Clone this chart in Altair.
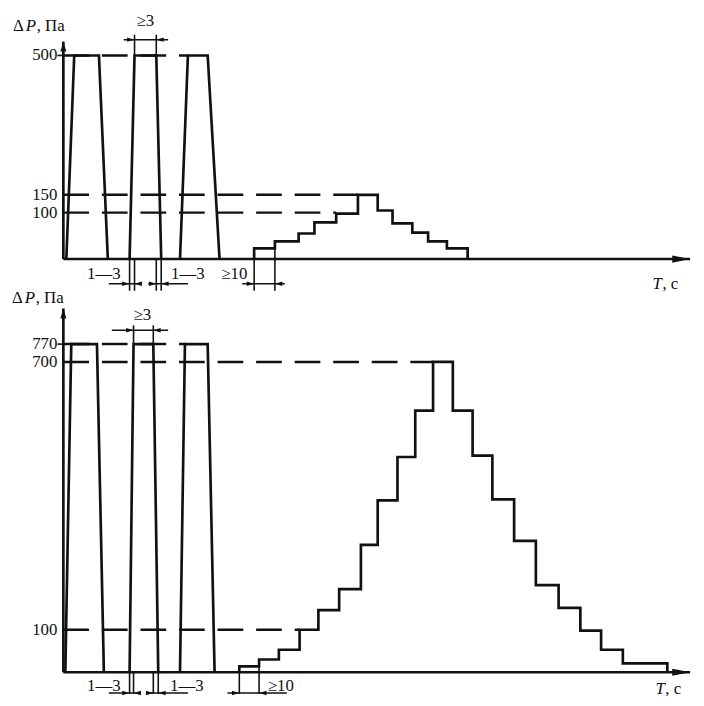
import altair as alt
import pandas as pd

FONT = "Liberation Serif"
FS = 17
INK = "#111111"

# ---------------- panel a (top) : pressure 0..500 Pa ----------------
A_TICKS = [500, 150, 100]
A_TICKMARK = [500]
A_LEVEL = 500
A_PULSES = [(3, 11, 36, 45), (67, 72, 94, 99), (118, 126, 146, 158)]
A_STEP_T = [193, 214, 238, 254, 276, 298, 318, 333, 353, 369, 388]
A_STEP_P = [23, 38, 55, 79, 98, 150, 106, 77, 57, 38, 23]
A_STEP_END = 409
A_DASH_P = [500, 150, 100]
A_DASH_END = [126, 298, 276]
A_AXIS_TIP = 514
A_DIM_TOP = dict(ext_T=[72, 94], ext_from=500, ext_to=521, line=(61, 106), P=516,
                 arrows=[(72, "R"), (94, "L")], text=("≥3", 83, 535))
A_DIM_LOW = dict(ext=[(67, 0), (72, 0), (94, 0), (99, 0), (193, 0), (214, 23)], ext_to=-32,
                 lines=[(46, 78), (86, 126), (181, 224)], P=-25,
                 arrows=[(67, "R"), (72, "L"), (94, "R"), (99, "L"), (193, "R"), (214, "L")],
                 texts=[("1—3", 41, -15), ("1—3", 126, -15), ("≥10", 173, -15)])
A_TLABEL = (596, -25)
A_PLABEL = (-51, 530)

# ---------------- panel b (bottom) : pressure 0..770 Pa ----------------
B_TICKS = [770, 700, 100]
B_TICKMARK = [770]
B_LEVEL = 770
B_PULSES = [(2, 8, 34, 41), (67, 71, 91, 96), (118, 123, 146, 153)]
B_STEP_T = [178, 198, 218, 239, 258, 279, 301, 318, 338, 356, 374,
            394, 414, 434, 456, 478, 501, 523, 544, 566]
B_STEP_P = [14, 30, 53, 100, 144, 191, 290, 390, 487, 591, 700,
            591, 490, 392, 299, 200, 149, 98, 53, 21]
B_STEP_END = 611
B_DASH_P = [770, 700, 100]
B_DASH_END = [123, 374, 239]
B_AXIS_TIP = 806
B_DIM_TOP = dict(ext_T=[71, 91], ext_from=770, ext_to=789, line=(49, 106), P=784,
                 arrows=[(71, "R"), (91, "L")], text=("≥3", 80, 799))
B_DIM_LOW = dict(ext=[(67, 0), (71, 0), (91, 0), (96, 0), (178, 0), (198, 14)], ext_to=-22,
                 lines=[(46, 78), (86, 126), (166, 226)], P=-21,
                 arrows=[(67, "R"), (71, "L"), (91, "R"), (96, "L"), (178, "R"), (198, "L")],
                 texts=[("1—3", 41, -14), ("1—3", 125, -14), ("≥10", 220, -14)])
B_TLABEL = (599, -17)
B_PLABEL = (-52, 817)

X_TIP = 634

XS = alt.Scale(domain=[-56, 640], nice=False, zero=False)
A_SCALE = alt.Scale(domain=[-50, 0, 100, 150, 500, 544], range=[300, 250, 203, 185, 44, 0],
                    nice=False, zero=False)
B_SCALE = alt.Scale(domain=[-22, 0, 100, 700, 770, 1106], range=[690, 668, 625, 354, 336, 0],
                    nice=False, zero=False)

ARROW_R = "M0,0L-2,-0.6L-2,0.6Z"
ARROW_L = "M0,0L2,-0.6L2,0.6Z"
AXIS_R = "M0,0L-2,-0.4L-2,0.4Z"
AXIS_UP = "M0,0L-0.6,2L0.6,2Z"


def X(f="T"):
    return alt.X(f"{f}:Q", scale=XS, axis=None)


def Y(ys, f="P"):
    return alt.Y(f"{f}:Q", scale=ys, axis=None)


def txt_layer(df, ys, align="left", italic=False):
    kw = dict(font=FONT, fontSize=FS, align=align, baseline="middle", color=INK)
    if italic:
        kw["fontStyle"] = "italic"
    return alt.Chart(df).mark_text(**kw).encode(x=X(), y=Y(ys), text="txt:N")


def panel(ys, ticks, tickmark, level, pulses, step_T, step_P, step_end, dash_P, dash_end,
          axis_tip, dtop, dlow, tlabel, plabel):
    layers = []
    # axes
    ax_y = pd.DataFrame({"T": [0], "P": [0], "P2": [axis_tip]})
    ax_x = pd.DataFrame({"T": [0], "T2": [X_TIP], "P": [0]})
    layers.append(alt.Chart(ax_y).mark_rule(color=INK, strokeWidth=2.7)
                  .encode(x=X(), y=Y(ys), y2="P2:Q"))
    layers.append(alt.Chart(ax_x).mark_rule(color=INK, strokeWidth=2.5)
                  .encode(x=X(), x2="T2:Q", y=Y(ys)))
    layers.append(alt.Chart(pd.DataFrame({"T": [0], "P": [axis_tip]}))
                  .mark_point(shape=AXIS_UP, size=100, filled=True, opacity=1, color=INK)
                  .encode(x=X(), y=Y(ys)))
    layers.append(alt.Chart(pd.DataFrame({"T": [X_TIP], "P": [0]}))
                  .mark_point(shape=AXIS_R, size=324, filled=True, opacity=1, color=INK)
                  .encode(x=X(), y=Y(ys)))
    # small ticks
    tk = pd.DataFrame({"T": [-6] * len(tickmark), "T2": [0] * len(tickmark), "P": tickmark})
    layers.append(alt.Chart(tk).mark_rule(color=INK, strokeWidth=1.6)
                  .encode(x=X(), x2="T2:Q", y=Y(ys)))
    # tick labels
    tl = pd.DataFrame({"T": [-6] * len(ticks), "P": ticks, "txt": [str(t) for t in ticks]})
    layers.append(txt_layer(tl, ys, align="right"))
    # dashed reference levels
    dd = pd.DataFrame({"T": [0] * len(dash_P), "T2": dash_end, "P": dash_P})
    layers.append(alt.Chart(dd).mark_rule(color=INK, strokeWidth=2.5, strokeDash=[26, 13])
                  .encode(x=X(), x2="T2:Q", y=Y(ys)))
    # pulses
    rows = []
    for i, (a, b, c, d) in enumerate(pulses):
        for j, (t, p) in enumerate([(a, 0), (b, level), (c, level), (d, 0)]):
            rows.append({"pid": i, "seq": j, "T": t, "P": p})
    layers.append(alt.Chart(pd.DataFrame(rows)).mark_line(color=INK, strokeWidth=2.7)
                  .encode(x=X(), y=Y(ys), detail="pid:N", order="seq:Q"))
    # staircase
    st = [{"seq": 0, "T": step_T[0], "P": 0}]
    for k, (t, p) in enumerate(zip(step_T, step_P)):
        st.append({"seq": k + 1, "T": t, "P": p})
    st.append({"seq": len(st), "T": step_end, "P": 0})
    layers.append(alt.Chart(pd.DataFrame(st))
                  .mark_line(color=INK, strokeWidth=2.7, interpolate="step-after")
                  .encode(x=X(), y=Y(ys), order="seq:Q"))
    # upper dimension (>=3)
    e1 = pd.DataFrame({"T": dtop["ext_T"], "P": [dtop["ext_from"]] * 2, "P2": [dtop["ext_to"]] * 2})
    layers.append(alt.Chart(e1).mark_rule(color=INK, strokeWidth=1.6)
                  .encode(x=X(), y=Y(ys), y2="P2:Q"))
    l1 = pd.DataFrame({"T": [dtop["line"][0]], "T2": [dtop["line"][1]], "P": [dtop["P"]]})
    layers.append(alt.Chart(l1).mark_rule(color=INK, strokeWidth=1.5)
                  .encode(x=X(), x2="T2:Q", y=Y(ys)))
    # lower dimensions
    e2 = pd.DataFrame({"T": [e[0] for e in dlow["ext"]], "P": [e[1] for e in dlow["ext"]],
                       "P2": [dlow["ext_to"]] * len(dlow["ext"])})
    layers.append(alt.Chart(e2).mark_rule(color=INK, strokeWidth=1.6)
                  .encode(x=X(), y=Y(ys), y2="P2:Q"))
    l2 = pd.DataFrame({"T": [l[0] for l in dlow["lines"]], "T2": [l[1] for l in dlow["lines"]],
                       "P": [dlow["P"]] * len(dlow["lines"])})
    layers.append(alt.Chart(l2).mark_rule(color=INK, strokeWidth=1.5)
                  .encode(x=X(), x2="T2:Q", y=Y(ys)))
    # arrowheads of the dimensions
    arr = [(t, dtop["P"], d) for t, d in dtop["arrows"]] + [(t, dlow["P"], d) for t, d in dlow["arrows"]]
    for dname, shp in (("R", ARROW_R), ("L", ARROW_L)):
        da = pd.DataFrame({"T": [a[0] for a in arr if a[2] == dname],
                           "P": [a[1] for a in arr if a[2] == dname]})
        layers.append(alt.Chart(da).mark_point(shape=shp, size=56, filled=True, opacity=1, color=INK)
                      .encode(x=X(), y=Y(ys)))
    # dimension texts
    txt = [dtop["text"]] + dlow["texts"]
    dt = pd.DataFrame({"txt": [t[0] for t in txt], "T": [t[1] for t in txt], "P": [t[2] for t in txt]})
    layers.append(txt_layer(dt, ys, align="center"))
    # axis names
    layers.append(txt_layer(pd.DataFrame({"T": [plabel[0]], "P": [plabel[1]], "txt": ["Δ"]}), ys))
    layers.append(txt_layer(pd.DataFrame({"T": [plabel[0] + 13], "P": [plabel[1]], "txt": ["P"]}), ys,
                            italic=True))
    layers.append(txt_layer(pd.DataFrame({"T": [plabel[0] + 24], "P": [plabel[1]], "txt": [", Па"]}), ys))
    layers.append(txt_layer(pd.DataFrame({"T": [tlabel[0]], "P": [tlabel[1]], "txt": ["T"]}), ys,
                            italic=True))
    layers.append(txt_layer(pd.DataFrame({"T": [tlabel[0] + 10], "P": [tlabel[1]], "txt": [", с"]}), ys))
    return alt.layer(*layers)


top = panel(A_SCALE, A_TICKS, A_TICKMARK, A_LEVEL, A_PULSES, A_STEP_T, A_STEP_P, A_STEP_END,
            A_DASH_P, A_DASH_END, A_AXIS_TIP, A_DIM_TOP, A_DIM_LOW, A_TLABEL, A_PLABEL)
bottom = panel(B_SCALE, B_TICKS, B_TICKMARK, B_LEVEL, B_PULSES, B_STEP_T, B_STEP_P, B_STEP_END,
               B_DASH_P, B_DASH_END, B_AXIS_TIP, B_DIM_TOP, B_DIM_LOW, B_TLABEL, B_PLABEL)

chart = (alt.layer(top, bottom)
         .resolve_scale(y="independent")
         .properties(width=696, height=690, padding=0,
                     autosize=alt.AutoSizeParams(type="none"), background="white")
         .configure_view(stroke=None))

chart.save("out.html", embed_options={"renderer": "svg", "actions": False})
